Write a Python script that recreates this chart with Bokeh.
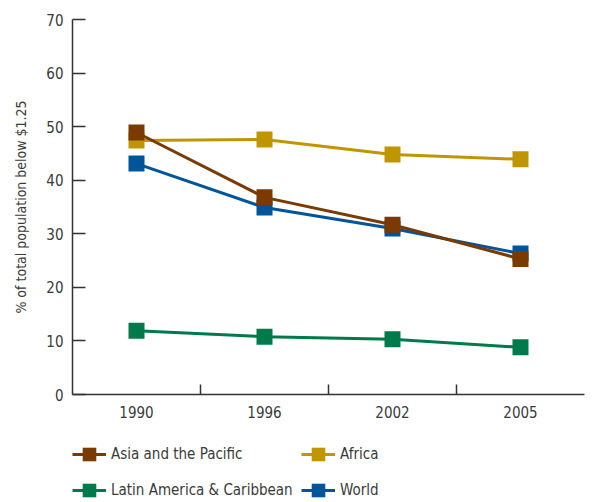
from bokeh.plotting import figure
from bokeh.models import FixedTicker, Legend, LegendItem, Range1d
from bokeh.layouts import column
from bokeh.embed import file_html
from bokeh.resources import INLINE

# Share of population living below $1.25 a day (%)
years = ["1990", "1996", "2002", "2005"]
asia_pacific = [48.9, 36.8, 31.7, 25.3]
africa = [47.4, 47.6, 44.8, 43.9]
latin_america = [11.9, 10.8, 10.3, 8.8]
world = [43.1, 34.9, 31.0, 26.3]

y_ticks = [0, 10, 20, 30, 40, 50, 60, 70]

# each year sits in the middle of its own slot on a 0..4 axis
xs = [i + 0.5 for i in range(len(years))]
slot_edges = [1, 2, 3]

FONT = "'Liberation Sans Narrow', 'DejaVu Sans Condensed', 'Roboto', sans-serif"
TEXT = "#3a3a3a"
AXIS = "#333333"

series = [
    ("Latin America & Caribbean", latin_america, "#007A4A"),
    ("World", world, "#00559A"),
    ("Africa", africa, "#C09600"),
    ("Asia and the Pacific", asia_pacific, "#7A3A00"),
]
legend_order = ["Asia and the Pacific", "Africa", "Latin America & Caribbean", "World"]

p = figure(
    width=599, height=420,
    min_border_left=72, min_border_right=15, min_border_top=19, min_border_bottom=0,
    output_backend="svg", toolbar_location=None,
    x_range=Range1d(0, 4), y_range=Range1d(0, 70),
)
p.outline_line_color = None
p.grid.grid_line_color = None
p.border_fill_color = "white"

# x axis: labels at slot centres, tick marks at slot boundaries
p.xaxis.ticker = FixedTicker(ticks=xs, minor_ticks=slot_edges)
p.xaxis.major_label_overrides = {x: y for x, y in zip(xs, years)}
p.xaxis.major_tick_in = 0
p.xaxis.major_tick_out = 0
p.xaxis.minor_tick_in = 10
p.xaxis.minor_tick_out = 0
p.xaxis.minor_tick_line_color = AXIS
p.xaxis.minor_tick_line_width = 1.5
p.xaxis.major_label_standoff = 11

p.yaxis.ticker = FixedTicker(ticks=y_ticks)
p.yaxis.minor_tick_line_color = None
p.yaxis.major_tick_in = 13
p.yaxis.major_tick_out = 0
p.yaxis.major_label_standoff = 9
p.yaxis.axis_label = "% of total population below $1.25"
p.yaxis.axis_label_standoff = 14

for ax in (p.xaxis, p.yaxis):
    ax.axis_line_color = AXIS
    ax.axis_line_width = 1.5
    ax.major_tick_line_color = AXIS
    ax.major_tick_line_width = 1.5
    ax.major_label_text_font = FONT
    ax.major_label_text_font_size = "15px"
    ax.major_label_text_color = TEXT
    ax.axis_label_text_font = FONT
    ax.axis_label_text_font_size = "14px"
    ax.axis_label_text_font_style = "normal"
    ax.axis_label_text_color = TEXT

for name, vals, color in series:
    p.line(xs, vals, line_color=color, line_width=3)
    p.scatter(xs, vals, marker="square", size=16, fill_color=color, line_color=None)

# legend strip underneath the chart; its copies of the series lie outside its view
key = figure(
    width=599, height=82, min_border=0,
    output_backend="svg", toolbar_location=None,
    x_range=Range1d(0, 4), y_range=Range1d(1000, 1001),
    x_axis_type=None, y_axis_type=None,
)
key.outline_line_color = None
key.grid.grid_line_color = None

key_renderers = {}
for name, vals, color in series:
    ln = key.line(xs, vals, line_color=color, line_width=3)
    sq = key.scatter(xs, vals, marker="square", size=16, fill_color=color, line_color=None)
    key_renderers[name] = [ln, sq]

legend = Legend(
    items=[LegendItem(label=n, renderers=key_renderers[n]) for n in legend_order],
    location=(0, -6),
    orientation="horizontal",
    ncols=2,
    glyph_width=34, glyph_height=36,
    label_standoff=5, label_width=190,
    spacing=0, padding=0, margin=0,
    border_line_color=None, background_fill_alpha=0,
    label_text_font=FONT, label_text_font_size="15px", label_text_color=TEXT,
)
key.add_layout(legend, "center")

open("out.html", "w").write(file_html(column(p, key, spacing=0), INLINE))
